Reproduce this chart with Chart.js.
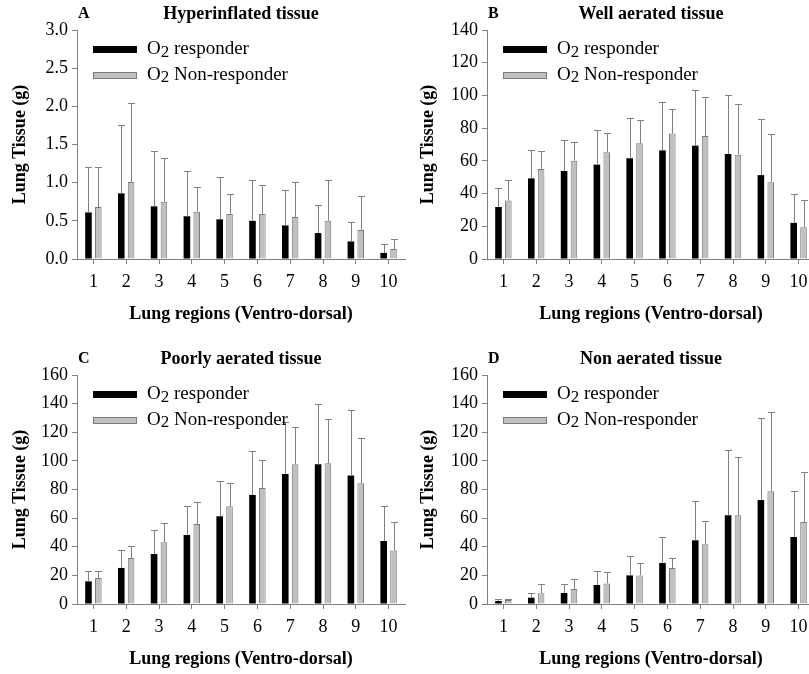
<!DOCTYPE html>
<html>
<head>
<meta charset="utf-8">
<script src="https://cdn.jsdelivr.net/npm/chart.js@4/dist/chart.umd.min.js"></script>
<style>
  html, body { margin: 0; padding: 0; background: #fff; width: 809px; height: 674px; overflow: hidden; }
  .panel { position: absolute; width: 410px; height: 340px; }
</style>
</head>
<body>
<div class="panel" style="left:0;top:0"><canvas id="chA"></canvas></div>
<div class="panel" style="left:410px;top:0"><canvas id="chB"></canvas></div>
<div class="panel" style="left:0;top:345px"><canvas id="chC"></canvas></div>
<div class="panel" style="left:410px;top:345px"><canvas id="chD"></canvas></div>
<script>
// ---- data ----
const REGIONS = ["1", "2", "3", "4", "5", "6", "7", "8", "9", "10"];
const SERIES = ["O2 responder", "O2 Non-responder"];
const X_TITLE = "Lung regions (Ventro-dorsal)";
const Y_TITLE = "Lung Tissue (g)";

// A — hyperinflated
const HYPER_RESP    = [0.61, 0.86, 0.69, 0.56, 0.52, 0.50, 0.44, 0.34, 0.23, 0.08];
const HYPER_RESP_SD = [0.60, 0.89, 0.73, 0.59, 0.55, 0.53, 0.47, 0.37, 0.26, 0.11];
const HYPER_NON     = [0.68, 1.01, 0.75, 0.62, 0.59, 0.59, 0.55, 0.50, 0.38, 0.13];
const HYPER_NON_SD  = [0.53, 1.03, 0.57, 0.32, 0.26, 0.38, 0.46, 0.53, 0.44, 0.13];

// B — well aerated
const WELL_RESP    = [31.8, 49.3, 53.8, 57.7, 61.6, 66.4, 69.3, 64.2, 51.3, 22.1];
const WELL_RESP_SD = [11.5, 17.5, 18.7, 20.9, 24.7, 29.3, 34.0, 35.8, 34.1, 17.5];
const WELL_NON     = [35.8, 55.0, 60.0, 65.2, 70.7, 76.8, 75.2, 63.8, 46.9, 19.4];
const WELL_NON_SD  = [12.5, 11.2, 11.8, 12.1, 14.3, 14.9, 23.6, 30.9, 29.5, 16.6];

// C — poorly aerated
const POOR_RESP    = [15.8, 25.2, 34.9, 48.2, 61.3, 76.2, 90.8, 97.6, 89.7, 44.0];
const POOR_RESP_SD = [7.2, 12.3, 16.6, 20.5, 24.4, 30.7, 36.4, 42.4, 46.1, 24.3];
const POOR_NON     = [18.2, 32.1, 43.1, 55.9, 68.3, 81.1, 97.6, 98.3, 84.3, 37.3];
const POOR_NON_SD  = [4.6, 8.7, 13.5, 15.4, 16.5, 19.3, 25.9, 31.0, 31.5, 20.2];

// D — non aerated
const NON_RESP    = [2.1, 4.4, 7.7, 13.3, 20.0, 28.7, 44.5, 62.0, 72.7, 46.8];
const NON_RESP_SD = [1.6, 3.1, 6.0, 9.7, 13.3, 17.9, 27.3, 45.4, 57.5, 32.4];
const NON_NON     = [2.8, 7.5, 10.5, 14.4, 20.0, 25.2, 41.7, 62.0, 78.7, 57.3];
const NON_NON_SD  = [0.9, 6.2, 6.7, 7.7, 8.9, 6.7, 16.5, 40.5, 55.7, 34.9];

const SERIF = "'Liberation Serif', 'Times New Roman', serif";
const AXIS_GREY = "#808080";

// error bars: only the upper half, line + cap
const errorBars = {
    id: "errorBars",
    afterDatasetsDraw(chart) {
        const ctx = chart.ctx, ys = chart.scales.y;
        chart.data.datasets.forEach((ds, di) => {
            const meta = chart.getDatasetMeta(di);
            meta.data.forEach((bar, i) => {
                const top = Math.round(ys.getPixelForValue(ds.data[i] + ds.sd[i])) + 0.5;
                const x = Math.round(bar.x) + 0.5;
                ctx.save();
                ctx.strokeStyle = AXIS_GREY;
                ctx.lineWidth = 1;
                ctx.beginPath();
                ctx.moveTo(x, bar.y);
                ctx.lineTo(x, top);
                ctx.moveTo(x - 3.5, top);
                ctx.lineTo(x + 3.5, top);
                ctx.stroke();
                ctx.restore();
            });
        });
    }
};

// panel letter, title and the legend inside the plot
const panelDeco = {
    id: "panelDeco",
    afterDraw(chart, args, opts) {
        const ctx = chart.ctx, ca = chart.chartArea;
        ctx.save();
        ctx.fillStyle = "#000";
        ctx.textBaseline = "middle";
        ctx.font = "bold 16px " + SERIF;
        ctx.textAlign = "left";
        ctx.fillText(opts.letter, ca.left + 1, ca.top - 16);
        ctx.font = "bold 18px " + SERIF;
        ctx.textAlign = "center";
        ctx.fillText(opts.title, (ca.left + ca.right) / 2, ca.top - 16);

        // legend
        ctx.textAlign = "left";
        chart.data.datasets.forEach((ds, i) => {
            const x0 = ca.left + 16;
            const yc = ca.top + 19.5 + i * 25.5;
            ctx.fillStyle = ds.backgroundColor;
            ctx.fillRect(x0, Math.round(yc - 3.5), 44, 7);
            if (ds.borderWidth) {
                ctx.strokeStyle = ds.borderColor;
                ctx.lineWidth = 1;
                ctx.strokeRect(x0 + 0.5, Math.round(yc - 3.5) + 0.5, 43, 6);
            }
            const m = ds.label.match(/^(\D+)(\d)(.*)$/);
            let tx = x0 + 54;
            ctx.fillStyle = "#000";
            ctx.font = "19px " + SERIF;
            ctx.fillText(m[1], tx, yc);
            tx += ctx.measureText(m[1]).width;
            ctx.font = "17px " + SERIF;
            ctx.fillText(m[2], tx, yc + 3);
            tx += ctx.measureText(m[2]).width;
            ctx.font = "19px " + SERIF;
            ctx.fillText(m[3], tx, yc);
        });
        ctx.restore();
    }
};

function panel(id, letter, title, yMax, yStep, decimals, resp, respSd, non, nonSd, yTitlePad) {
    return new Chart(document.getElementById(id), {
        type: "bar",
        data: {
            labels: REGIONS,
            datasets: [
                { label: SERIES[0], data: resp, sd: respSd, backgroundColor: "#000000",
                  borderWidth: 0, categoryPercentage: 0.6, barPercentage: 0.67 },
                { label: SERIES[1], data: non, sd: nonSd, backgroundColor: "#c0c0c0",
                  borderColor: "#7a7a7a", borderWidth: 1, categoryPercentage: 0.6, barPercentage: 0.67 },
            ],
        },
        options: {
            responsive: true, maintainAspectRatio: false, animation: false, devicePixelRatio: 1,
            layout: { padding: { left: 0, right: 5, top: 30, bottom: 11 } },
            plugins: {
                legend: { display: false }, tooltip: { enabled: false },
                panelDeco: { letter, title },
            },
            scales: {
                x: {
                    grid: { offset: false, drawOnChartArea: false, tickLength: 5, color: AXIS_GREY },
                    border: { color: AXIS_GREY },
                    ticks: { color: "#000", font: { family: SERIF, size: 18 }, padding: 7,
                             autoSkip: false, maxRotation: 0 },
                    title: { display: true, text: X_TITLE, color: "#000",
                             font: { family: SERIF, size: 18, weight: "bold" },
                             padding: { top: 4, bottom: 4 } },
                    afterFit: s => { s.height = 70; },
                },
                y: {
                    min: 0, max: yMax,
                    grid: { drawOnChartArea: false, tickLength: 5, color: AXIS_GREY },
                    border: { color: AXIS_GREY },
                    ticks: { stepSize: yStep, color: "#000", font: { family: SERIF, size: 18 }, padding: 4,
                             callback: v => Number(v).toFixed(decimals) },
                    title: { display: true, text: Y_TITLE, color: "#000",
                             font: { family: SERIF, size: 18, weight: "bold" },
                             padding: { top: yTitlePad, bottom: 4 } },
                    afterFit: s => { s.width = 77; },
                },
            },
        },
        plugins: [errorBars, panelDeco],
    });
}

panel("chA", "A", "Hyperinflated tissue", 3, 0.5, 1, HYPER_RESP, HYPER_RESP_SD, HYPER_NON, HYPER_NON_SD, 10);
panel("chB", "B", "Well aerated tissue", 140, 20, 0, WELL_RESP, WELL_RESP_SD, WELL_NON, WELL_NON_SD, 8);
panel("chC", "C", "Poorly aerated tissue", 160, 20, 0, POOR_RESP, POOR_RESP_SD, POOR_NON, POOR_NON_SD, 10);
panel("chD", "D", "Non aerated tissue", 160, 20, 0, NON_RESP, NON_RESP_SD, NON_NON, NON_NON_SD, 8);
</script>
</body>
</html>
